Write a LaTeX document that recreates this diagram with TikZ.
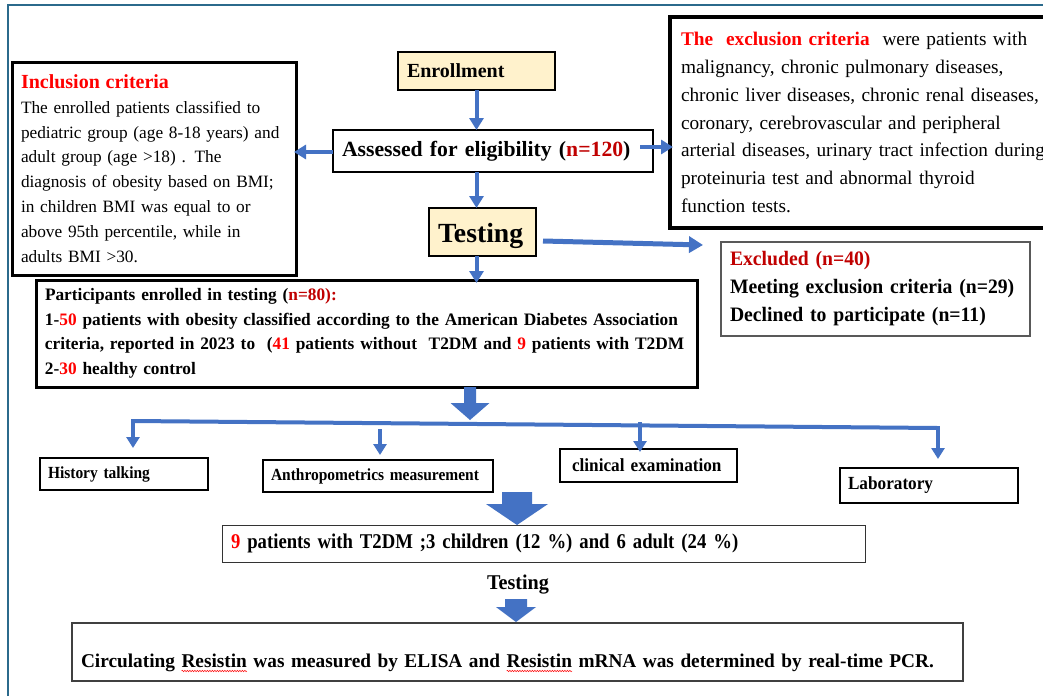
\documentclass[tikz,border=0pt]{standalone}
\usepackage{fontspec}
\setmainfont{Liberation Serif}
\newfontfamily\condA[FakeStretch=0.91]{Liberation Serif}
\newfontfamily\condB[FakeStretch=0.93]{Liberation Serif}
\newfontfamily\condC[FakeStretch=0.89]{Liberation Serif}
\newfontfamily\condE[FakeStretch=0.96]{Liberation Serif}
\newfontfamily\condF[FakeStretch=0.99]{Liberation Serif}
\usetikzlibrary{arrows.meta,calc,decorations.pathmorphing}
\definecolor{blu}{HTML}{4472C4}
\definecolor{dred}{HTML}{C00000}
\definecolor{bred}{HTML}{FF0000}
\definecolor{beige}{HTML}{FFF2CC}
\definecolor{framec}{HTML}{2B6A8C}
\newsavebox\wavebox
\newcommand\redwave[1]{\sbox\wavebox{#1}\rlap{\usebox\wavebox}\tikz[baseline=0pt,x=1pt,y=1pt]{\useasboundingbox (0,0) rectangle (\wd\wavebox,0);
  \draw[red, line width=0.5pt, decorate, decoration={snake,amplitude=0.7pt,segment length=2.5pt}] (0,-3.5) -- (\wd\wavebox,-3.5);}}
\newcommand\blockarrow[6]{%
  \fill[blu] ({#1-#5},#2) -- ({#1+#5},#2) -- ({#1+#5},#3) -- ({#1+#6},#3) -- (#1,#4)
    -- ({#1-#6},#3) -- ({#1-#5},#3) -- cycle;}
\tikzset{
  box/.style={draw=black, inner ysep=0pt, outer sep=0pt},
  barrow/.style={blu, line width=4pt, -{Triangle[width=14pt,length=12pt]}},
  darrow/.style={blu, line width=3.5pt, -{Triangle[width=13pt,length=11pt]}},
  rowbox/.style={box, line width=2.5pt, align=left, inner xsep=8pt},
  rowA/.style={rowbox, font=\condA\bfseries\fontsize{17}{19}\selectfont},
  rowB/.style={rowbox, font=\condB\bfseries\fontsize{18.5}{20}\selectfont},
}
\begin{document}
\begin{tikzpicture}[x=1pt,y=-1pt]
\useasboundingbox (0,0) rectangle (1043,696);
\fill[white] (0,0) rectangle (1043,696);
\draw[framec, line width=1.6pt] (8,696) -- (8,5) -- (1043,5);

% top boxes
\node[box, line width=3pt, minimum width=284pt, minimum height=213pt, text width=266pt, inner xsep=9pt, align=left,
  font=\fontsize{17.3}{24.8}\selectfont] (incl) at (154,168.5)
  {{\color{bred}\bfseries\fontsize{20}{24}\selectfont Inclusion criteria}\\
   The enrolled patients classified to\\
   pediatric group (age 8-18 years) and\\
   adult group (age >18) . The\\
   diagnosis of obesity based on BMI;\\
   in children BMI was equal to or\\
   above 95th percentile, while in\\
   adults BMI >30.};

\node[box, line width=3.5pt, anchor=north west, minimum height=211pt, text width=390pt, inner xsep=11pt, align=left,
  font=\fontsize{19.3}{27.8}\selectfont] (excl) at (670,17)
  {{\color{bred}\bfseries The\ \ exclusion criteria}\ \ were patients with\\
   malignancy, chronic pulmonary diseases,\\
   chronic liver diseases, chronic renal diseases,\\
   coronary, cerebrovascular and peripheral\\
   arterial diseases, urinary tract infection during\\
   proteinuria test and abnormal thyroid\\
   function tests.};

\node[box, fill=beige, line width=1.3pt, minimum height=38pt, text width=139pt, inner xsep=9pt, align=left,
  font=\bfseries\fontsize{20}{22}\selectfont] (enr) at (476.5,71) {Enrollment};

\node[box, line width=1.5pt, minimum height=42pt, text width=302pt, inner xsep=9pt, align=left,
  font=\bfseries\fontsize{21.7}{25}\selectfont] (ass) at (493,151)
  {Assessed for eligibility ({\color{dred}n=120})};

\node[box, fill=beige, line width=1.3pt, minimum height=48pt, text width=89pt, inner xsep=9pt, align=left,
  text height=27pt, font=\bfseries\fontsize{27.7}{30}\selectfont] (test) at (482.5,232) {Testing};

\node[box, draw=black!65, line width=2pt, minimum height=94pt, text width=291pt, inner xsep=9pt, align=left,
  font=\condE\bfseries\fontsize{20.5}{28}\selectfont] (exd) at (875.5,289)
  {{\color{dred}Excluded (n=40)}\\
   Meeting exclusion criteria (n=29)\\
   Declined to participate (n=11)};

\node[box, line width=3pt, minimum height=107pt, text width=643pt, inner xsep=9pt, align=left,
  font=\condF\bfseries\fontsize{17.5}{24.5}\selectfont] (part) at (366.5,333.5)
  {\mbox{Participants enrolled in testing ({\color{dred}n=80):}}\\
   \mbox{1-{\color{red}50} patients with obesity classified according to the American Diabetes Association}\\
   \mbox{criteria, reported in 2023 to\ \ ({\color{red}41} patients without\ \ T2DM and {\color{red}9} patients with T2DM}\\
   \mbox{2-{\color{red}30} healthy control}};

% row boxes
\node[rowA, minimum height=32pt, text width=152pt] (hist) at (124,474) {History talking};
\node[rowA, minimum height=32pt, text width=214pt] (anth) at (378,476) {Anthropometrics measurement};
\node[rowB, minimum height=33pt, text width=153pt, inner xsep=12pt] (clin) at (648.5,465.5) {clinical examination};
\node[rowB, minimum height=35pt, text width=162pt] (lab) at (929,485.5) {Laboratory};

\node[box, draw=black!80, line width=1pt, minimum height=37pt, text width=625pt, inner xsep=9pt, align=left,
  font=\condC\bfseries\fontsize{21}{24}\selectfont] (nine) at (543.5,543.5)
  {{\color{red}9} patients with T2DM ;3 children (12 \%) and 6 adult (24 \%)};

\node[font=\condE\bfseries\fontsize{21}{24}\selectfont, inner sep=0pt] (tlab) at (518,585) {Testing};

\node[box, draw=black!75, line width=1.2pt, minimum height=58pt, text width=873pt, inner xsep=9pt, align=left,
  text height=36pt, text depth=5pt,
  font=\condF\bfseries\fontsize{19.5}{22}\selectfont] (fin) at (517.5,652)
  {Circulating \redwave{Resistin} was measured by ELISA and \redwave{Resistin} mRNA was determined by real-time PCR.};

% connectors
\draw[barrow] (enr.south) -- (enr.south |- ass.north);
\draw[barrow] ($(ass.west)+(0,1)$) -- ($(incl.east |- ass.west)+(-2,1)$);
\draw[barrow] ($(ass.east)+(-13,-4)$) -- ($(excl.west |- ass.east)+(3,-4)$);
\draw[barrow] (enr.south |- ass.south) -- (enr.south |- test.north);
\draw[blu, line width=5pt, -{Triangle[width=16pt,length=14pt]}] ($(test.east)+(7,9)$) -- ($(exd.north west)+(-18,3)$);
\draw[barrow, shorten >=-3pt] (enr.south |- test.south) -- (enr.south |- part.north);

% big arrow below participants
\blockarrow{470}{387}{403}{420}{6}{19.5}

% branch
\coordinate (b1) at (133,421);
\coordinate (b4) at (938,428);
\coordinate (b2) at (380,429);
\coordinate (b3) at (640,422);
\draw[blu, line width=4pt] (b1) -- (b4);
\draw[darrow, shorten >=10pt] ([yshift=2pt]b1) -- (b1 |- hist.north);
\draw[darrow, shorten >=5pt] (b2) -- (b2 |- anth.north);
\draw[darrow, shorten >=-3pt] (b3) -- (b3 |- clin.north);
\draw[darrow, shorten >=9pt] ([yshift=2pt]b4) -- (b4 |- lab.north);

% block arrows lower
\blockarrow{517}{492}{504}{525}{15}{31}
\blockarrow{516}{599}{607}{622}{11}{20}
\end{tikzpicture}
\end{document}
